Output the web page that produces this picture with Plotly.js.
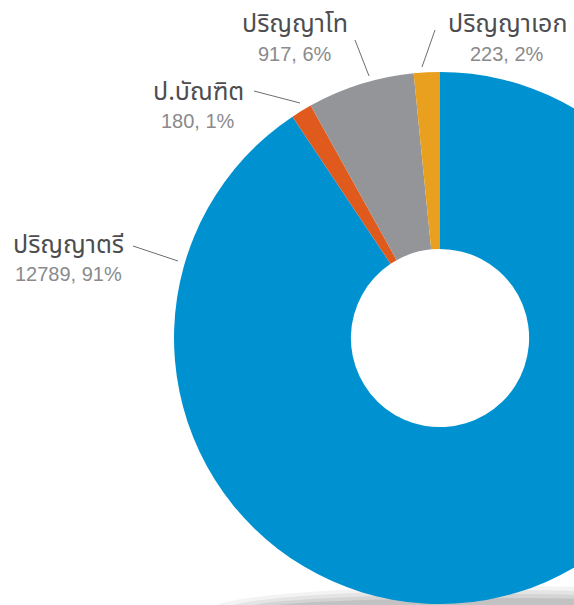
<!DOCTYPE html>
<html>
<head>
<meta charset="utf-8">
<script src="https://cdn.plot.ly/plotly-3.0.1.min.js"></script>
<style>
  html, body { margin: 0; padding: 0; overflow: hidden; background: #ffffff; }
  #chart { position: absolute; left: 0; top: 0; width: 880px; height: 676px; }
</style>
</head>
<body>
<div id="chart"></div>
<script>
// ---- data ----
const categories = ["ปริญญาตรี", "ป.บัณฑิต", "ปริญญาโท", "ปริญญาเอก"];
const counts = [12789, 180, 917, 223];
const sliceColors = ["#0092d0", "#e05a1e", "#939598", "#e9a01e"];

// ---- layout helpers (pixel -> paper in an 880x676 figure) ----
const W = 880, H = 676;
const px = x => x / W;
const py = y => 1 - y / H;

const total = counts.reduce((a, b) => a + b, 0);
const pct = counts.map(v => Math.round(v / total * 100));

// label placement (text centres and leader lines), one per category
const labelPos = [
  {x: 68, y: 245, vy: 274, line: [133, 246, 178, 261]},
  {x: 198, y: 92, vy: 121, line: [254, 91, 300, 103]},
  {x: 295, y: 24, vy: 54, line: [355, 40, 369, 76]},
  {x: 507, y: 24, vy: 54, line: [435, 30, 422, 67]}
];

const thaiFont = "Noto Sans Thai, Noto Sans, sans-serif";
const annotations = [];
const shapes = [];

// soft shadow under the donut
const shadowSteps = [
  {rx: 290, ry: 24, op: 0.07},
  {rx: 275, ry: 20, op: 0.09},
  {rx: 260, ry: 16, op: 0.11},
  {rx: 245, ry: 12, op: 0.13}
];
shadowSteps.forEach(s => {
  shapes.push({
    type: "circle", xref: "paper", yref: "paper", layer: "below",
    x0: px(500 - s.rx), x1: px(500 + s.rx),
    y0: py(610 + s.ry), y1: py(610 - s.ry),
    fillcolor: "rgba(80,80,80," + s.op + ")", line: {width: 0}
  });
});

categories.forEach((c, i) => {
  const p = labelPos[i];
  annotations.push({
    xref: "paper", yref: "paper", x: px(p.x), y: py(p.y),
    xanchor: "center", yanchor: "middle", showarrow: false,
    text: c, font: {family: thaiFont, size: 25, color: "#4d4d4f"}
  });
  annotations.push({
    xref: "paper", yref: "paper", x: px(p.x), y: py(p.vy),
    xanchor: "center", yanchor: "middle", showarrow: false,
    text: counts[i] + ", " + pct[i] + "%",
    font: {family: "Liberation Sans, Arial, sans-serif", size: 20, color: "#8a8a8c"}
  });
  shapes.push({
    type: "line", xref: "paper", yref: "paper",
    x0: px(p.line[0]), y0: py(p.line[1]), x1: px(p.line[2]), y1: py(p.line[3]),
    line: {color: "#6d6e71", width: 1}
  });
});

const trace = {
  type: "pie",
  labels: categories,
  values: counts,
  hole: 0.335,
  sort: false,
  direction: "clockwise",
  rotation: 0,
  textinfo: "none",
  hoverinfo: "label+value+percent",
  marker: {colors: sliceColors, line: {width: 0}},
  domain: {x: [174 / W, 706 / W], y: [1 - 604 / H, 1 - 72 / H]},
  showlegend: false
};

const layout = {
  width: W, height: H,
  margin: {l: 0, r: 0, t: 0, b: 0},
  paper_bgcolor: "#ffffff",
  showlegend: false,
  annotations: annotations,
  shapes: shapes
};

Plotly.newPlot("chart", [trace], layout, {displayModeBar: false, staticPlot: true});
</script>
</body>
</html>
